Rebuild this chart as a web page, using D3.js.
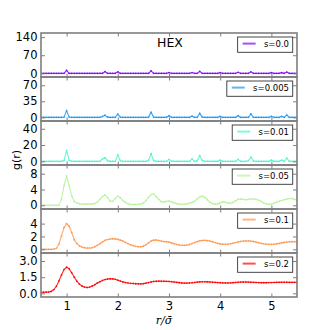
<!DOCTYPE html>
<html><head><meta charset="utf-8">
<script src="https://cdn.jsdelivr.net/npm/d3@7"></script>
<style>body{margin:0;background:#fff}svg{display:block}</style>
</head><body>
<svg id="c" width="330" height="330"></svg>
<script>
// r sample positions (r / sigma-bar)
const rValues = [
 0.50,0.55,0.60,0.65,0.70,0.75,0.80,0.85,0.90,0.95,
 1.00,1.05,1.10,1.15,1.20,1.25,1.30,1.35,1.40,1.45,
 1.50,1.55,1.60,1.65,1.70,1.75,1.80,1.85,1.90,1.95,
 2.00,2.05,2.10,2.15,2.20,2.25,2.30,2.35,2.40,2.45,
 2.50,2.55,2.60,2.65,2.70,2.75,2.80,2.85,2.90,2.95,
 3.00,3.05,3.10,3.15,3.20,3.25,3.30,3.35,3.40,3.45,
 3.50,3.55,3.60,3.65,3.70,3.75,3.80,3.85,3.90,3.95,
 4.00,4.05,4.10,4.15,4.20,4.25,4.30,4.35,4.40,4.45,
 4.50,4.55,4.60,4.65,4.70,4.75,4.80,4.85,4.90,4.95,
 5.00,5.05,5.10,5.15,5.20,5.25,5.30,5.35,5.40,5.45,
 5.50];

const gS0 = [
 0,0,0,0,0,0,0,0,0,0,
 11.6,0,0,0,0,0,0,0,0,0,
 0,0,0,0,0,6.5,0,0,0,0,
 6.0,0,0,0,0,0,0,0,0,0,
 0,0,0,9.5,0,0,0,0,0,0,
 3.0,0,0,0,0,0,0,0,0,3.0,
 0,0,7.5,0,0,0,0,0,0,0,
 2.5,0,0,0,0,0,0,4.0,0,0,
 0,0,6.0,0,0,0,0,0,0,0,
 2.5,0,0,0,2.5,0,5.0,0,0,0,
 0];

const gS005 = [
 0,0,0,0,0,0,0,0,0,0.5,
 14.6,0.5,0,0,0,0,0,0,0,0,
 0,0,0,0,2.0,4.5,0.5,0,0,0,
 7.0,0.5,0,0,0,0,0,0,0,0,
 0,0,0.5,11.0,0.5,0,0,0,0,0,
 3.6,0,0,0,0,0,0,0,0,2.5,
 0,0,8.7,0.5,0,0,0,0,0,0,
 2.0,0,0,0,0,0,0,3.6,0,0,
 0,0,7.3,0,0,0,0,0,0,0,
 2.0,0,0,0,2.0,0,5.0,0,0,0,
 0];

const gS01 = [
 0,0,0,0,0,0,0,0,0,1.0,
 13.3,1.2,0,0,0,0,0,0,0,0,
 0,0,0,0,2.8,4.4,0.8,0,0,0,
 8.0,0.8,0,0,0,0,0,0,0,0,
 0,0,1.0,9.3,1.0,0,0,0,0,0,
 2.4,0.3,0,0,0,0,0,0,0,3.0,
 0,0.8,7.0,1.0,0,0,0,0,0,0,
 1.5,0,0,0,0,0,0,2.4,0,0,
 0,0.8,5.0,0.5,0,0,0,0,0,0,
 1.5,0,0,0,1.5,0,4.0,0,0,0,
 0];

const gS05 = [
 0,0,0,0,0,0,0,0.05,1.5,5.0,
 7.4,4.9,2.4,1.0,0.6,0.4,0.3,0.3,0.3,0.3,
 0.35,0.45,0.8,1.5,2.2,2.6,2.0,1.1,1.0,1.7,
 2.3,1.9,1.2,0.7,0.4,0.25,0.2,0.2,0.25,0.35,
 0.6,1.2,2.0,2.7,2.9,2.2,1.5,0.9,0.8,1.0,
 1.1,0.9,0.6,0.4,0.3,0.25,0.25,0.35,0.55,0.7,
 1.0,1.6,2.1,2.3,2.0,1.4,0.8,0.45,0.3,0.3,
 0.6,0.9,0.8,0.6,0.5,0.7,1.1,1.5,1.6,1.5,
 1.4,1.5,1.6,1.6,1.5,1.3,1.0,0.6,0.35,0.25,
 0.3,0.5,0.8,1.0,1.2,1.4,1.6,1.7,1.7,1.5,
 1.3];

const gS1 = [
 0,0,0,0,0,0.02,0.15,0.80,2.10,3.40,
 4.00,3.60,2.60,1.50,0.90,0.55,0.35,0.25,0.20,0.20,
 0.25,0.40,0.62,0.87,1.15,1.40,1.52,1.60,1.65,1.63,
 1.55,1.43,1.28,1.08,0.88,0.70,0.58,0.47,0.40,0.40,
 0.50,0.72,1.00,1.28,1.43,1.45,1.38,1.28,1.20,1.18,
 1.12,1.00,0.88,0.76,0.68,0.63,0.62,0.65,0.75,0.90,
 1.05,1.20,1.32,1.38,1.40,1.36,1.28,1.18,1.05,0.93,
 0.85,0.80,0.78,0.80,0.86,0.95,1.05,1.15,1.23,1.28,
 1.30,1.30,1.28,1.22,1.12,1.02,0.93,0.86,0.81,0.78,
 0.78,0.80,0.85,0.92,1.00,1.08,1.13,1.17,1.18,1.18,
 1.17];

const gS2 = [
 0.10,0.10,0.11,0.12,0.18,0.35,0.65,1.15,1.70,2.20,
 2.42,2.28,1.90,1.50,1.12,0.85,0.68,0.58,0.54,0.58,
 0.68,0.80,0.95,1.08,1.20,1.28,1.33,1.35,1.34,1.30,
 1.22,1.14,1.06,1.00,0.96,0.93,0.91,0.89,0.88,0.88,
 0.90,0.95,1.00,1.05,1.10,1.12,1.13,1.12,1.12,1.11,
 1.10,1.08,1.05,1.02,0.99,0.96,0.95,0.95,0.96,0.98,
 1.01,1.04,1.06,1.07,1.07,1.06,1.05,1.03,1.02,1.00,
 0.98,0.97,0.96,0.96,0.97,0.99,1.01,1.03,1.04,1.05,
 1.05,1.04,1.03,1.02,1.01,1.00,0.99,0.99,0.99,1.00,
 1.00,1.01,1.02,1.02,1.03,1.03,1.03,1.02,1.02,1.02,
 1.01];

const seriesValues = [gS0, gS005, gS01, gS05, gS1, gS2];
const seriesLabels = ["s=0.0","s=0.005","s=0.01","s=0.05","s=0.1","s=0.2"];
const seriesColors = ["#8000ff","#1a96f3","#4df3ce","#b3f396","#ff964f","#ff0000"];
const yTickValues = [[0,70,140],[0,35,70],[0,20,40],[0,4,8],[0,2,4],[0,1.5,3]];
const yTickFormats = ["d","d","d","d","d",".1f"];
const yDomains = [[-14.2,156],[-8,88],[-4.5,49.5],[-0.94,10.2],[-0.57,6.27],[-0.34,3.74]];
const xTickValues = [1,2,3,4,5];
const xDomain = [0.5,5.5];
const titleText = "HEX";
const xLabelText = "r/σ\u0304";
const yLabelText = "g(r)";

(function () {
const svg = d3.select("#c");
const pL = 41, pR = 297, pT = 33, pB = 297;
const nP = seriesValues.length;
const ph = (pB - pT) / nP;
const spine = "#7f7f7f";
const font = "'DejaVu Sans', sans-serif";

const x = d3.scaleLinear().domain(xDomain).range([pL, pR]);
const defs = svg.append("defs");

seriesValues.forEach((vals, i) => {
  const y0 = pT + i * ph, y1 = y0 + ph;
  const y = d3.scaleLinear().domain(yDomains[i]).range([y1, y0]);
  const g = svg.append("g");
  defs.append("clipPath").attr("id", "clip" + i)
    .append("rect").attr("x", pL).attr("y", y0).attr("width", pR - pL).attr("height", ph);

  const data = rValues.map((r, k) => [r, vals[k]]);
  const line = d3.line().x(d => x(d[0])).y(d => y(d[1]));
  const plot = g.append("g").attr("clip-path", `url(#clip${i})`);
  plot.append("path").datum(data).attr("d", line)
    .attr("fill", "none").attr("stroke", seriesColors[i]).attr("stroke-width", 1.1)
    .attr("stroke-opacity", 0.85);
  plot.selectAll("circle").data(data).join("circle")
    .attr("cx", d => x(d[0])).attr("cy", d => y(d[1])).attr("r", 0.9)
    .attr("fill", seriesColors[i]).attr("fill-opacity", 0.9);

  const aL = g.append("g").attr("transform", `translate(${pL},0)`)
    .call(d3.axisLeft(y).tickValues(yTickValues[i]).tickSizeInner(-4).tickSizeOuter(0)
      .tickPadding(3.5).tickFormat(d3.format(yTickFormats[i])));
  const aR = g.append("g").attr("transform", `translate(${pR},0)`)
    .call(d3.axisRight(y).tickValues(yTickValues[i]).tickSizeInner(-4).tickSizeOuter(0).tickFormat(""));
  const aT = g.append("g").attr("transform", `translate(0,${y0})`)
    .call(d3.axisTop(x).tickValues(xTickValues).tickSizeInner(-3.5).tickSizeOuter(0).tickFormat(""));
  const aB = g.append("g").attr("transform", `translate(0,${y1})`)
    .call(d3.axisBottom(x).tickValues(xTickValues).tickSizeInner(-3.5).tickSizeOuter(0)
      .tickPadding(5).tickFormat(i === nP - 1 ? d3.format("d") : ""));
  [aL, aR, aT, aB].forEach(a => {
    a.select(".domain").remove();
    a.selectAll(".tick line").attr("stroke", spine).attr("stroke-width", 1);
    a.selectAll(".tick text").attr("fill", "#000").attr("font-size", 11.5).attr("font-family", font);
  });

  g.append("rect").attr("x", pL).attr("y", y0).attr("width", pR - pL).attr("height", ph)
    .attr("fill", "none").attr("stroke", spine).attr("stroke-width", 1.6);

  const fs = 8.5;
  const lg = g.append("g");
  const txt = lg.append("text").attr("x", 289).attr("y", y0 + 14.2).attr("text-anchor", "end")
    .attr("font-size", fs).attr("font-family", font).attr("fill", "#000").text(seriesLabels[i]);
  const tw = txt.node().getComputedTextLength();
  const bx0 = 289 - tw - 26.3;
  lg.insert("rect", "text").attr("x", bx0).attr("y", y0 + 4).attr("width", 292.7 - bx0).attr("height", 15.3)
    .attr("fill", "#fff").attr("stroke", "#333").attr("stroke-width", 0.9);
  lg.append("line").attr("x1", bx0 + 5).attr("x2", bx0 + 18).attr("y1", y0 + 10.6).attr("y2", y0 + 10.6)
    .attr("stroke", seriesColors[i]).attr("stroke-width", 2).attr("stroke-opacity", 0.7);
});

svg.append("text").attr("x", 157).attr("y", 47).attr("font-size", 12.5).attr("font-family", font)
  .attr("fill", "#000").text(titleText);

svg.append("text").attr("transform", "translate(20,160) rotate(-90)").attr("text-anchor", "middle")
  .attr("font-size", 11).attr("font-family", font).attr("fill", "#000").text(yLabelText);

svg.append("text").attr("x", 164).attr("y", 324).attr("text-anchor", "middle")
  .attr("font-size", 11).attr("font-family", "'DejaVu Serif', serif").attr("font-style", "italic")
  .attr("fill", "#000").text(xLabelText);
})();
</script>
</body></html>
